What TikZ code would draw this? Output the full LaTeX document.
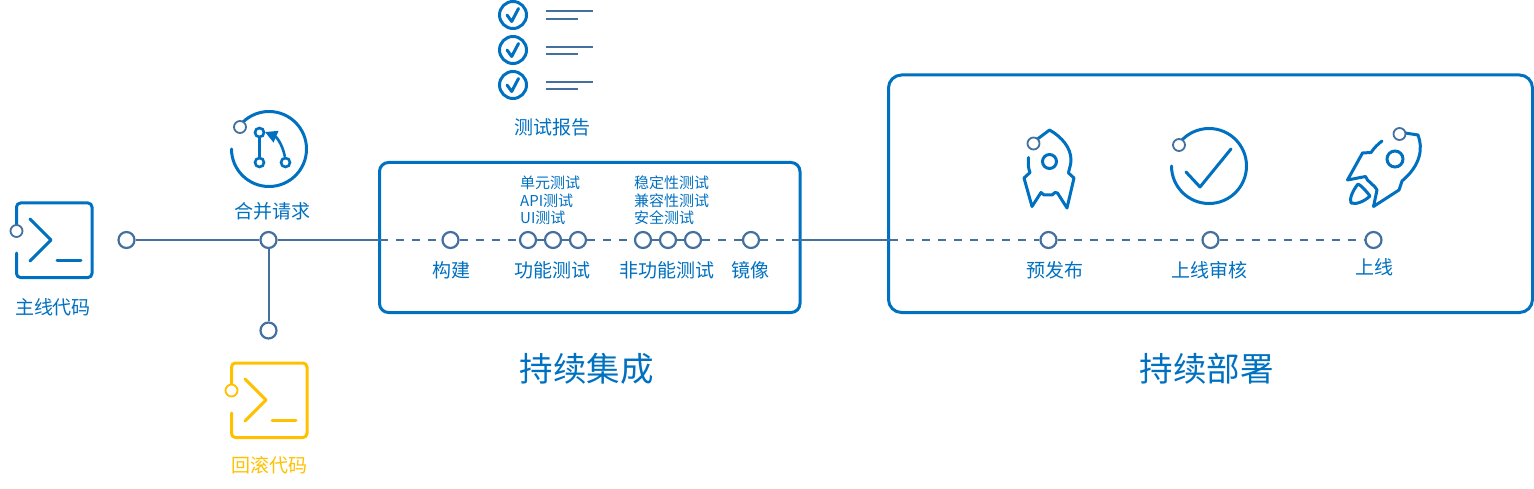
\documentclass[tikz,border=0pt]{standalone}
\usepackage{fontspec}
\setmainfont{Noto Sans CJK SC}
\usetikzlibrary{positioning,arrows.meta}
\definecolor{cblue}{HTML}{0070C0}
\definecolor{cline}{HTML}{44709F}
\definecolor{cyellow}{HTML}{FFC000}
\tikzset{
	stagept/.style={circle,draw=cline,fill=white,line width=2.2pt,minimum size=16pt,inner sep=0pt},
	iconpt/.style={circle,draw=cline,fill=white,line width=1.8pt,minimum size=12pt,inner sep=0pt},
	flowline/.style={draw=cline,line width=2pt},
	flowdash/.style={flowline,dash pattern=on 8pt off 8pt},
	iconline/.style={draw=cblue,line width=3pt,line cap=round,line join=round},
	stagebox/.style={draw=cblue,line width=3pt,rounded corners=9pt},
	label/.style={text=cblue,font=\fontsize{19}{19}\selectfont,inner sep=0pt},
	smalllabel/.style={text=cblue,font=\fontsize{15}{17.5}\selectfont,inner sep=0pt,align=left,anchor=north west},
	biglabel/.style={text=cblue,font=\fontsize{33.5}{33.5}\selectfont,inner sep=0pt}
}
\newcommand{\termicon}[3]{%
	\draw[iconline,draw=#3,rounded corners=4pt] (#1+16.5,#2+231) -- (#1+16.5,#2+203) -- (#1+92,#2+203) -- (#1+92,#2+277.5) -- (#1+16.5,#2+277.5) -- (#1+16.5,#2+253);
	\draw[iconline,draw=#3] (#1+30,#2+219) -- (#1+51,#2+240) -- (#1+30,#2+261);
	\draw[iconline,draw=#3] (#1+57,#2+260.5) -- (#1+81,#2+260.5);
}
\begin{document}
\begin{tikzpicture}[x=1pt,y=-1pt]
	\useasboundingbox (0,0) rectangle (1534,489);
	% boxes
	\draw[stagebox] (379.5,162.5) rectangle (800,312.5);
	\draw[stagebox,rounded corners=13pt] (888.5,75) rectangle (1532.5,312.5);
	% main line
	\node[stagept] (start) at (126.5,240) {};
	\node[stagept] (merge) at (268.5,240) {};
	\node[stagept] (rollback) at (268.5,330.5) {};
	\coordinate (ciin) at (380,240);
	\coordinate (ciout) at (800,240);
	\coordinate (cdin) at (890,240);
	\node[stagept] (build) at (450.5,240) {};
	\node[stagept] (fa) at (528,240) {};
	\node[stagept] (fb) at (553,240) {};
	\node[stagept] (fc) at (578,240) {};
	\node[stagept] (na) at (643,240) {};
	\node[stagept] (nb) at (668,240) {};
	\node[stagept] (nc) at (693,240) {};
	\node[stagept] (image) at (751,240) {};
	\node[stagept] (pre) at (1048.5,240) {};
	\node[stagept] (audit) at (1210.5,240) {};
	\node[stagept] (online) at (1373.5,240) {};
	\draw[flowline] (start) -- (merge);
	\draw[flowline] (merge) -- (rollback);
	\draw[flowline] (merge) -- (ciin);
	\draw[flowdash] (ciin) -- (build);
	\draw[flowdash] (build) -- (fa);
	\draw[flowline] (fa) -- (fb);
	\draw[flowline] (fb) -- (fc);
	\draw[flowdash] (fc) -- (na);
	\draw[flowline] (na) -- (nb);
	\draw[flowline] (nb) -- (nc);
	\draw[flowdash] (nc) -- (image);
	\draw[flowdash] (image) -- (ciout);
	\draw[flowline] (ciout) -- (cdin);
	\draw[flowdash] (cdin) -- (pre);
	\draw[flowdash] (pre) -- (audit);
	\draw[flowdash] (audit) -- (online);
	% terminal icons
	\termicon{0}{0}{cblue}
	\node[iconpt] (mainpt) at (16.5,231) {};
	\termicon{215}{160}{cyellow}
	\node[iconpt,draw=cyellow] (backpt) at (231.5,390.5) {};
	% merge icon
	\draw[iconline] (231.5,149) arc (180:-142:37.5);
	\node[iconpt] (mergept) at (240,127) {};
	\node[circle,draw=cblue,line width=2.6pt,minimum size=9pt,inner sep=0pt] (ma) at (259.5,132.5) {};
	\node[circle,draw=cblue,line width=2.6pt,minimum size=9pt,inner sep=0pt] (mb) at (259.5,162.5) {};
	\node[circle,draw=cblue,line width=2.6pt,minimum size=9pt,inner sep=0pt] (mc) at (285.5,162.5) {};
	\draw[iconline] (ma) -- (mb);
	\draw[draw=cblue,line width=2.6pt,-{Triangle[length=12pt,width=12pt]}] (mc) to[bend right=28] (265,132);
	% test report
	\foreach \n/\y/\ya/\yb in {a/15/10.7/19,b/50/47/54,c/85/82/89} {
		\node[circle,draw=cblue,line width=3pt,minimum size=27pt,inner sep=0pt] (chk\n) at (513,\y) {};
		\draw[iconline] (507,\y) -- (511.7,\y+6.5) -- (518.5,\y-6.5);
		\draw[draw=cline,line width=2pt] (546,\ya) -- (593,\ya);
		\draw[draw=cline,line width=2pt] (546,\yb) -- (578,\yb);
	}
	% rocket
	\draw[iconline] (1037.5,139) -- (1049.5,130) .. controls (1062,137) and (1071,148) .. (1071,160) .. controls (1071,165) and (1069,169) .. (1068.5,173) -- (1074,178) -- (1067,208) -- (1057.5,193) -- (1055,192.5) -- (1052,195) -- (1044,195) -- (1041,192.5) -- (1032,206.5) -- (1024,178) -- (1030,172.5) .. controls (1028,168) and (1028,162) .. (1028.5,157.5);
	\node[iconpt] (rocketpt) at (1033.5,143.5) {};
	\node[circle,draw=cblue,line width=3pt,minimum size=14pt,inner sep=0pt] (rocketwin) at (1049.5,161.5) {};
	% check icon
	\draw[iconline] (1171.5,166) arc (180:-140:37.5);
	\node[iconpt] (auditpt) at (1179,145) {};
	\draw[iconline] (1186,172) -- (1200,187) -- (1231,149);
	% launch icon
	\draw[iconline] (1405,133) -- (1418,135) .. controls (1423,148) and (1421,165) .. (1402,181) -- (1399,190) -- (1373.5,206.5) -- (1377,190) -- (1375,187) -- (1367.5,180) -- (1365.5,176.5) -- (1347.5,180) -- (1362.5,153) -- (1371,152.5) .. controls (1374,148) and (1378,144) .. (1382,141);
	\node[iconpt] (launchpt) at (1399.5,134) {};
	\node[circle,draw=cblue,line width=3pt,minimum size=16pt,inner sep=0pt] (launchwin) at (1395,159) {};
	\draw[iconline] (1370,196) .. controls (1366,191) and (1362,186) .. (1358,184) .. controls (1353,190) and (1349,199) .. (1351,203) .. controls (1356,205) and (1365,201) .. (1370,196) -- cycle;
	% labels
	\node[label] (lmain) at (53,307.5) {主线代码};
	\node[label] (lmerge) at (272,211.5) {合并请求};
	\node[label,text=cyellow] (lback) at (269,465.5) {回滚代码};
	\node[label] (lreport) at (552,127.5) {测试报告};
	\node[label] (lbuild) at (451,270.5) {构建};
	\node[label] (lfunc) at (552,270.5) {功能测试};
	\node[label] (lnon) at (666.5,270.5) {非功能测试};
	\node[label] (limage) at (750.5,270.5) {镜像};
	\node[label] (lpre) at (1055,270.5) {预发布};
	\node[label] (laudit) at (1209,270.5) {上线审核};
	\node[label] (lonline) at (1374,267.5) {上线};
	\node[smalllabel] (lfdetail) at (520,176) {单元测试\\API测试\\UI测试};
	\node[smalllabel] (lndetail) at (634,176) {稳定性测试\\兼容性测试\\安全测试};
	\node[biglabel] (lci) at (586.5,368.5) {持续集成};
	\node[biglabel] (lcd) at (1206.5,368.5) {持续部署};
\end{tikzpicture}
\end{document}
